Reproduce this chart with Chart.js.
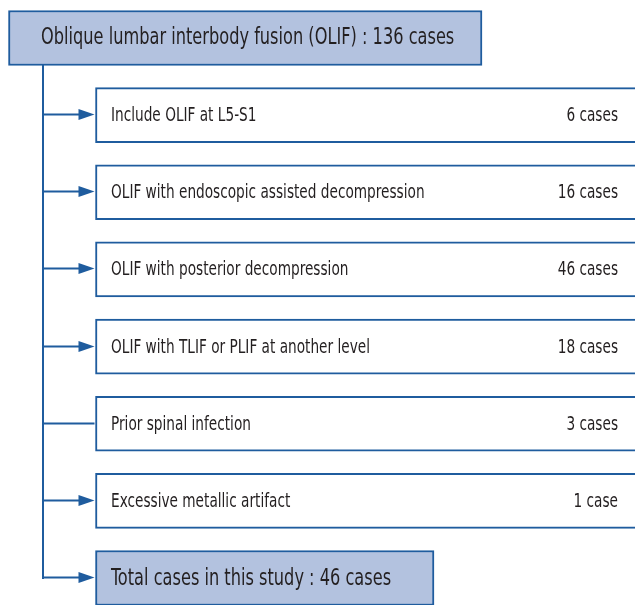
<!DOCTYPE html>
<html>
<head>
<meta charset="utf-8">
<script src="https://cdn.jsdelivr.net/npm/chart.js@4.4.1/dist/chart.umd.min.js"></script>
<style>
  html, body { margin: 0; padding: 0; background: #fff; }
  #wrap { width: 635px; height: 605px; }
</style>
</head>
<body>
<div id="wrap"><canvas id="flowChart" width="635" height="605"></canvas></div>
<script>
// flow data
const sourceLabel = 'Oblique lumbar interbody fusion (OLIF)';
const sourceCases = 136;
const exclusionLabels = [
  'Include OLIF at L5-S1',
  'OLIF with endoscopic assisted decompression',
  'OLIF with posterior decompression',
  'OLIF with TLIF or PLIF at another level',
  'Prior spinal infection',
  'Excessive metallic artifact'
];
const exclusionCases = [6, 16, 46, 18, 3, 1];
const exclusionArrow = [true, true, true, true, false, true];
const totalLabel = 'Total cases in this study';
const totalCases = 46;

// look
const BLUE = '#1f5c9e';
const FILL = '#b3c2df';
const TEXT = '#231f20';
const FONT = "'Liberation Sans Narrow', 'Arial Narrow', 'DejaVu Sans Condensed', sans-serif";
const TRUNK_X = 43;
const spans = { source: [8.5, 482], exclusion: [95.5, 700], total: [95.5, 434] };

const rowLabels = [sourceLabel, ...exclusionLabels, totalLabel];
const nRows = rowLabels.length;
const casesText = n => n + (n === 1 ? ' case' : ' cases');

const boxRanges = rowLabels.map((_, i) =>
  i === 0 ? spans.source : (i === nRows - 1 ? spans.total : spans.exclusion));
const boxFills = rowLabels.map((_, i) => (i === 0 || i === nRows - 1) ? FILL : '#ffffff');

function drawText(ctx, str, x, y, size, align) {
  const squeeze = 0.8; // condensed look
  ctx.save();
  ctx.font = size + 'px ' + FONT;
  ctx.fillStyle = TEXT;
  ctx.textBaseline = 'middle';
  ctx.textAlign = align;
  ctx.translate(x, y);
  ctx.scale(squeeze, 1);
  ctx.fillText(str, 0, 0);
  ctx.restore();
}

// connectors go under the boxes
const connectors = {
  id: 'connectors',
  beforeDatasetsDraw(chart) {
    const { ctx, scales: { y } } = chart;
    const top = y.getPixelForValue(0) + 27;
    const bottom = y.getPixelForValue(nRows - 1);
    ctx.save();
    ctx.strokeStyle = BLUE;
    ctx.fillStyle = BLUE;
    ctx.lineWidth = 2;
    ctx.beginPath();
    ctx.moveTo(TRUNK_X, top);
    ctx.lineTo(TRUNK_X, bottom + 1);
    ctx.stroke();
    for (let i = 1; i < nRows; i++) {
      const py = Math.round(y.getPixelForValue(i)) - 0.5;
      const tip = spans.exclusion[0] - 1;
      const arrow = i === nRows - 1 ? true : exclusionArrow[i - 1];
      ctx.beginPath();
      ctx.moveTo(TRUNK_X - 1, py);
      ctx.lineTo(arrow ? tip - 12 : tip, py);
      ctx.stroke();
      if (arrow) {
        ctx.beginPath();
        ctx.moveTo(tip, py);
        ctx.lineTo(tip - 16, py - 5.5);
        ctx.lineTo(tip - 16, py + 5.5);
        ctx.closePath();
        ctx.fill();
      }
    }
    ctx.restore();
  }
};

// labels on top of the boxes
const boxText = {
  id: 'boxText',
  afterDatasetsDraw(chart) {
    const { ctx, scales: { y } } = chart;
    drawText(ctx, sourceLabel + ' : ' + casesText(sourceCases),
      spans.source[0] + 32.5, y.getPixelForValue(0), 22.5, 'left');
    exclusionLabels.forEach((label, k) => {
      const py = y.getPixelForValue(k + 1) + 1;
      drawText(ctx, label, spans.exclusion[0] + 15.5, py, 19, 'left');
      drawText(ctx, casesText(exclusionCases[k]), 618, py, 19, 'right');
    });
    drawText(ctx, totalLabel + ' : ' + casesText(totalCases),
      spans.total[0] + 15.5, y.getPixelForValue(nRows - 1) + 1, 22.5, 'left');
  }
};

new Chart(document.getElementById('flowChart'), {
  type: 'bar',
  data: {
    labels: rowLabels,
    datasets: [{
      data: boxRanges,
      backgroundColor: boxFills,
      borderColor: BLUE,
      borderWidth: 2,
      borderSkipped: false,
      barThickness: 55,
      clip: false
    }]
  },
  options: {
    indexAxis: 'y',
    responsive: false,
    animation: false,
    devicePixelRatio: 1,
    layout: { padding: { top: 38, bottom: 27, left: 0, right: 0 } },
    plugins: { legend: { display: false }, tooltip: { enabled: false } },
    scales: {
      x: { type: 'linear', min: 0, max: 635, display: false },
      y: { type: 'category', offset: false, display: false }
    }
  },
  plugins: [connectors, boxText]
});
</script>
</body>
</html>
